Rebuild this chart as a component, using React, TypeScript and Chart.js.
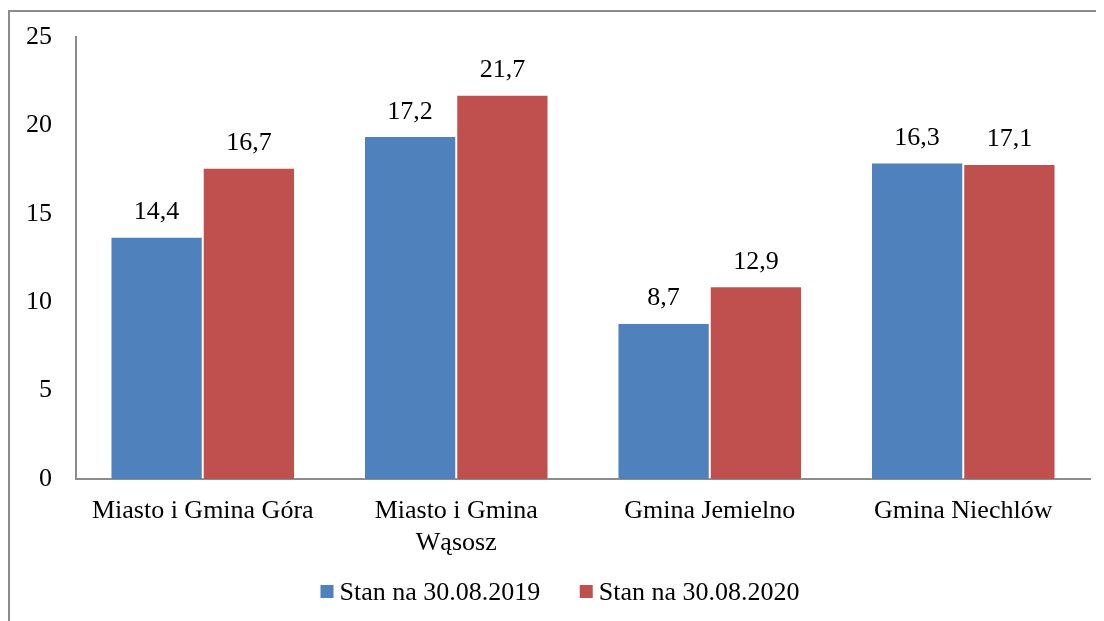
import React, { useEffect, useRef } from "react";
import { Chart, registerables } from "chart.js";

Chart.register(...registerables);

const categories: (string | string[])[] = [
  "Miasto i Gmina Góra",
  ["Miasto i Gmina", "Wąsosz"],
  "Gmina Jemielno",
  "Gmina Niechlów",
];
const seriesNames = ["Stan na 30.08.2019", "Stan na 30.08.2020"];
// bar heights as drawn in the picture
const bars2019 = [13.7, 19.4, 8.83, 17.9];
const bars2020 = [17.61, 21.73, 10.9, 17.82];
// printed data labels
const labels2019 = ["14,4", "17,2", "8,7", "16,3"];
const labels2020 = ["16,7", "21,7", "12,9", "17,1"];
const yTicks = [0, 5, 10, 15, 20, 25];

const FONT = '"Liberation Serif", "Times New Roman", serif';
const BLUE = "#4F81BD";
const RED = "#C0504D";
const AXIS = "#8c8c8c";

export default function App() {
  const ref = useRef<HTMLCanvasElement | null>(null);

  useEffect(() => {
    document.documentElement.style.overflow = "hidden";
    const canvas = ref.current;
    if (!canvas) return;
    const allLabels = [labels2019, labels2020];

    const dataLabelPlugin = {
      id: "dataLabels",
      afterDatasetsDraw(chart: any) {
        const ctx = chart.ctx;
        ctx.save();
        ctx.font = `26px ${FONT}`;
        ctx.fillStyle = "#000";
        ctx.textAlign = "center";
        ctx.textBaseline = "alphabetic";
        chart.data.datasets.forEach((_: any, di: number) => {
          const meta = chart.getDatasetMeta(di);
          meta.data.forEach((el: any, i: number) => {
            ctx.fillText(allLabels[di][i], el.x, el.y - 17.5);
          });
        });
        ctx.restore();
      },
    };

    const legendPlugin = {
      id: "customLegend",
      afterDraw(chart: any) {
        const ctx = chart.ctx;
        ctx.save();
        ctx.font = `26px ${FONT}`;
        const box = 13;
        const gapText = 6;
        const gapItem = 39.5;
        const colors = [BLUE, RED];
        const widths = seriesNames.map((s) => ctx.measureText(s).width);
        const total =
          widths.reduce((a: number, w: number) => a + w + box + gapText, 0) + gapItem * (seriesNames.length - 1);
        let x = chart.width / 2 + 4 - total / 2;
        const cy = 583.5;
        seriesNames.forEach((s, i) => {
          ctx.fillStyle = colors[i];
          ctx.fillRect(x, cy - box / 2, box, box);
          ctx.fillStyle = "#000";
          ctx.textAlign = "left";
          ctx.textBaseline = "alphabetic";
          ctx.fillText(s, x + box + gapText, cy + 8.5);
          x += box + gapText + widths[i] + gapItem;
        });
        ctx.restore();
      },
    };

    const chart = new Chart(canvas, {
      type: "bar",
      data: {
        labels: categories,
        datasets: [
          {
            label: seriesNames[0],
            data: bars2019,
            backgroundColor: BLUE,
            borderColor: "rgba(255,255,255,0.3)",
            borderWidth: 1,
            categoryPercentage: 0.728,
            barPercentage: 1,
          },
          {
            label: seriesNames[1],
            data: bars2020,
            backgroundColor: RED,
            borderColor: "rgba(255,255,255,0.35)",
            borderWidth: 1,
            categoryPercentage: 0.728,
            barPercentage: 1,
          },
        ],
      },
      options: {
        responsive: false,
        animation: false,
        devicePixelRatio: 1,
        layout: { padding: { top: 29, right: 14, bottom: 52, left: 0 } },
        plugins: {
          legend: { display: false },
          tooltip: { enabled: false },
        },
        scales: {
          x: {
            grid: { display: false, drawTicks: false },
            border: { display: true, color: AXIS, width: 2 },
            ticks: {
              color: "#000",
              font: { family: FONT, size: 26 },
              padding: 17,
              maxRotation: 0,
              autoSkip: false,
            },
            afterFit: (s: any) => {
              s.height = 90;
              s.paddingLeft = 0;
              s.paddingRight = 0;
            },
          },
          y: {
            min: yTicks[0],
            max: yTicks[yTicks.length - 1],
            grid: { display: false, drawTicks: false },
            border: { display: true, color: AXIS, width: 2 },
            ticks: {
              stepSize: 5,
              color: "#000",
              font: { family: FONT, size: 26 },
              padding: 24,
            },
            afterBuildTicks: (s: any) => {
              s.ticks = yTicks.map((v) => ({ value: v }));
            },
            afterFit: (s: any) => {
              s.width = 68;
              s.paddingTop = 0;
              s.paddingBottom = 0;
            },
          },
        },
      },
      plugins: [dataLabelPlugin, legendPlugin],
    });
    return () => chart.destroy();
  }, []);

  return (
    <div style={{ position: "relative", width: 1096, height: 613, overflow: "hidden", background: "#fff" }}>
      <div
        style={{
          position: "absolute",
          left: 0,
          top: 2,
          width: 1300,
          height: 900,
          borderLeft: `2px solid ${AXIS}`,
          borderTop: `2px solid ${AXIS}`,
        }}
      />
      <canvas ref={ref} width={1096} height={613} style={{ position: "absolute", left: 0, top: 0, display: "block" }} />
    </div>
  );
}
